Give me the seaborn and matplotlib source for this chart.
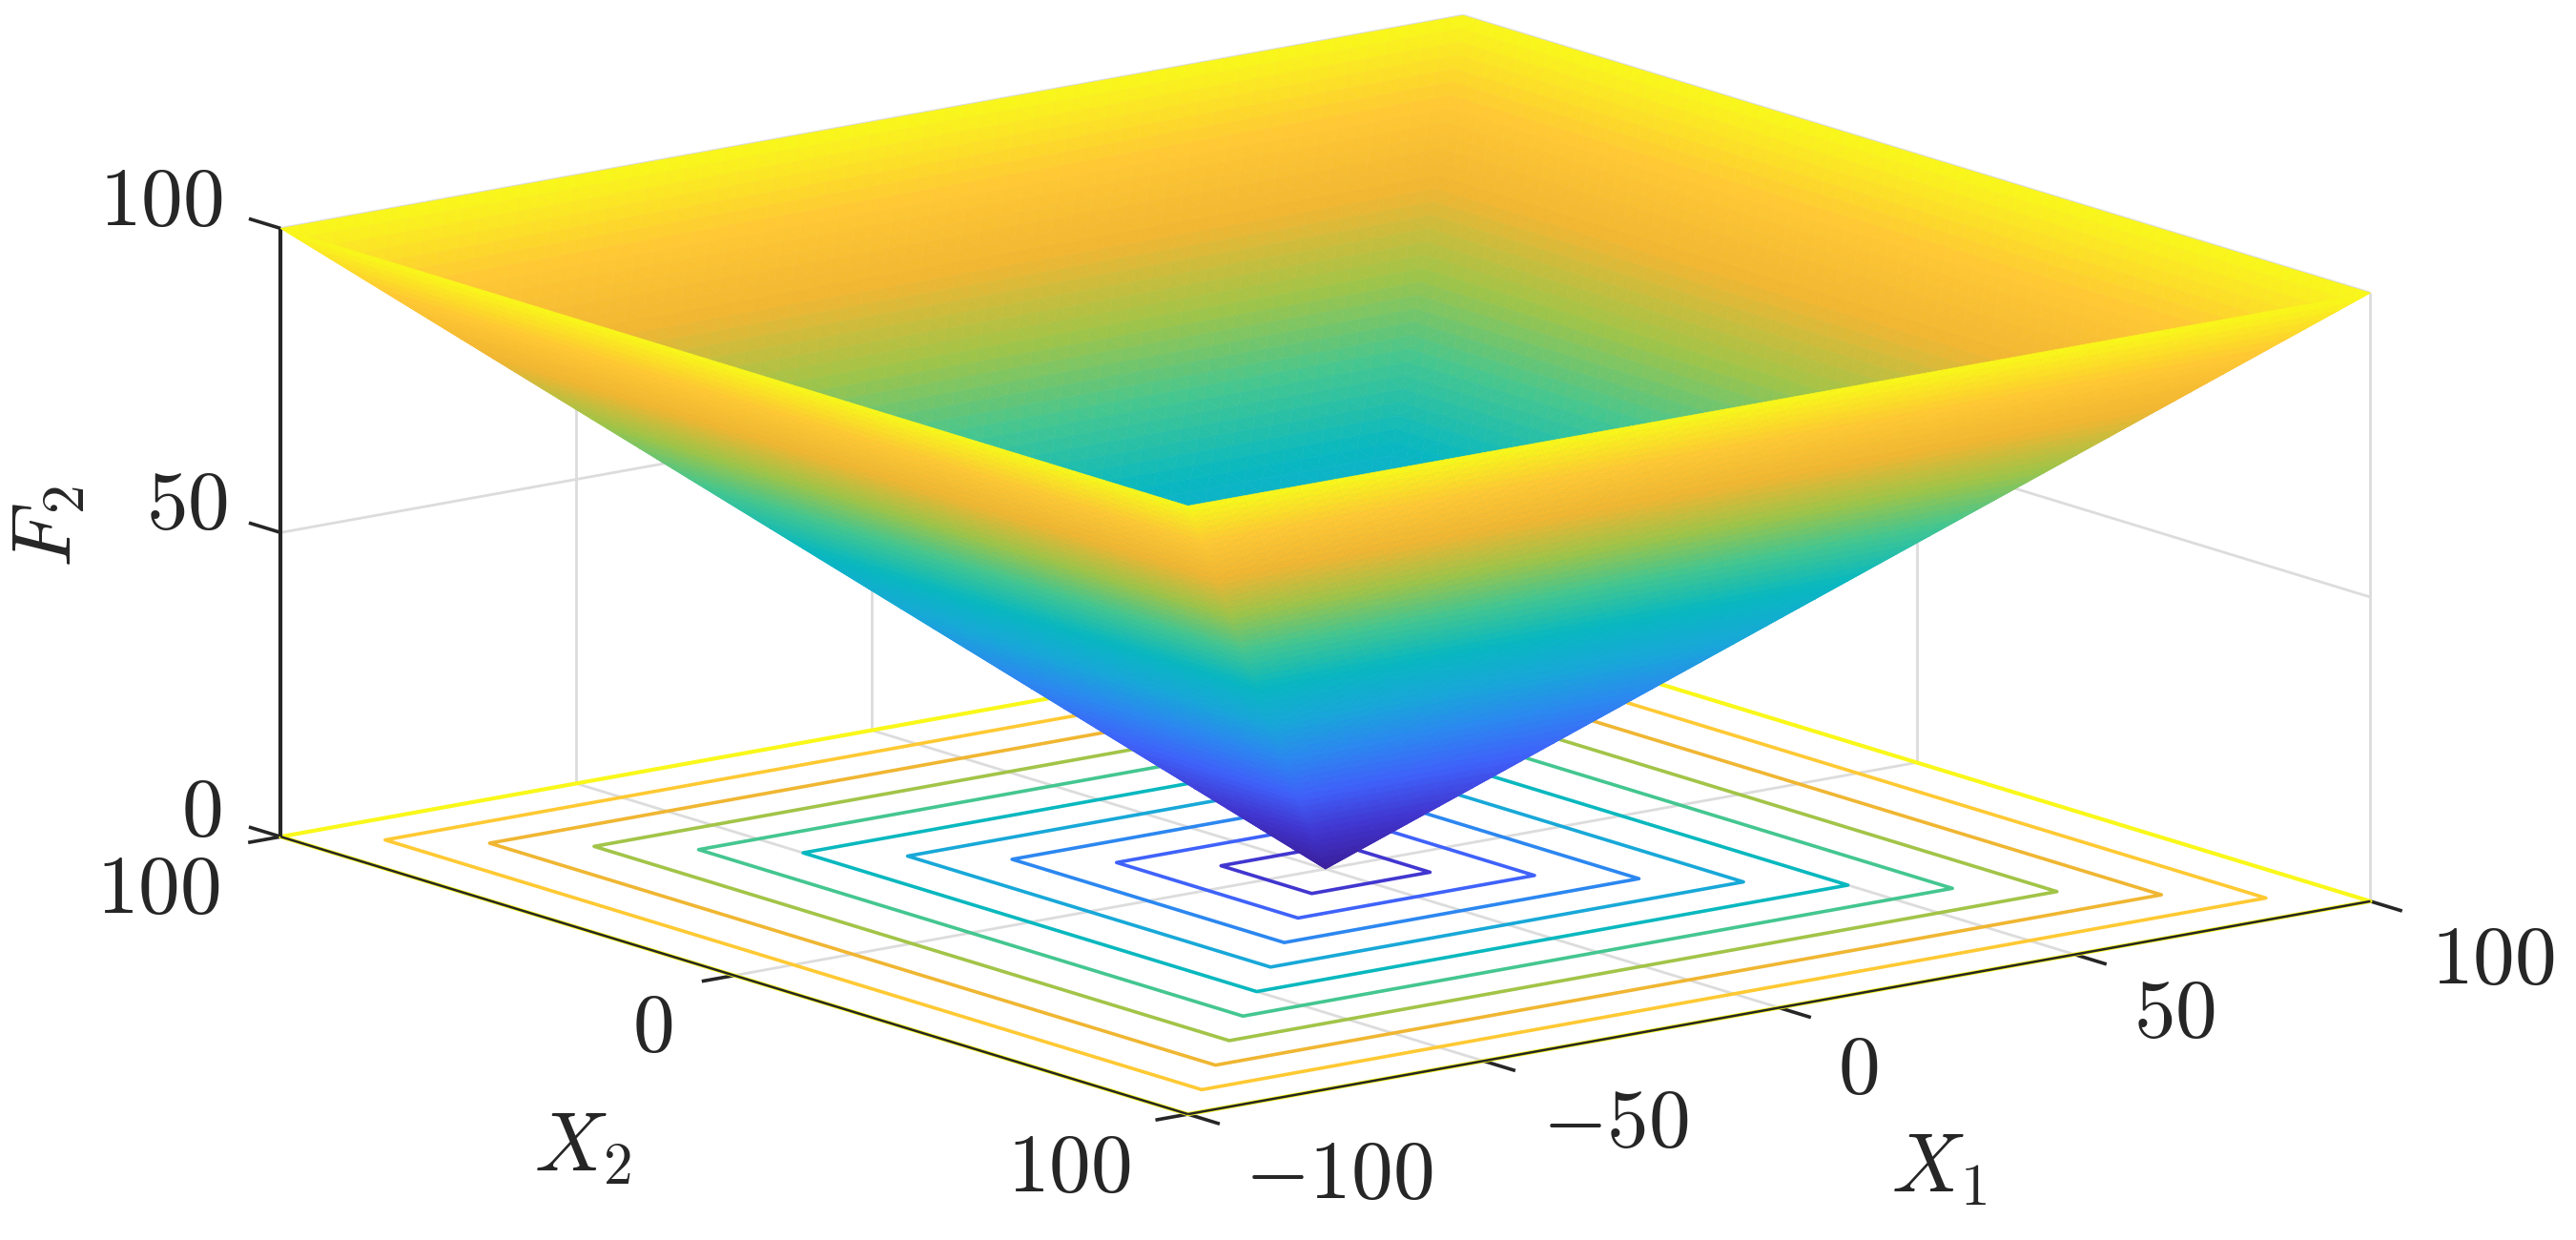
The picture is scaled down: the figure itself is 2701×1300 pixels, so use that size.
import matplotlib
matplotlib.use('Agg')
import matplotlib.pyplot as plt
import matplotlib.tri as mtri
import seaborn as sns

# corners and centre of the surface
x1_points = [-100, 100, 100, -100, 0]
x2_points = [-100, -100, 100, 100, 0]
f2_points = [100, 100, 100, 100, 0]

x1_ticks = [-100, -50, 0, 50, 100]
x2_ticks = [-100, 0, 100]
f2_ticks = [0, 50, 100]

x1_labels = ['$-100$', '$-50$', '$0$', '$50$', '$100$']
x2_labels = ['$100$', '$0$', '$100$']
f2_labels = ['$0$', '$50$', '$100$']

contour_levels = [10, 20, 30, 40, 50, 60, 70, 80, 90]

# colours sampled from the surface at F2 = 0, 10, ... 100
surface_colors = ['#3a1f9c', '#4136d0', '#3f62fa', '#2c88f0', '#18a8d8', '#08b8c0',
                  '#44c690', '#a0c448', '#f0b632', '#ffc834', '#f9f81a']

# label centres in pixels of the 2701x1300 picture
x1_label_px = [(1404, 1232), (1694, 1178), (1948, 1122), (2280, 1063), (2614, 1007)]
x2_label_px = [(1121, 1225), (684, 1078), (166, 933)]
f2_label_px = [(211, 852), (196, 530), (169, 212)]

sns.set_theme(style='white')
plt.rcParams['mathtext.fontset'] = 'cm'

W, H = 2701, 1300
fig = plt.figure(figsize=(W / 100, H / 100), dpi=100, facecolor='white')

# axes larger than the figure so nothing gets clipped at the right corner
side = 2800
left = -48
bottom = -730
ax = fig.add_axes([left / W, bottom / H, side / W, side / H], projection='3d',
                  proj_type='ortho', computed_zorder=False)
ax.set_box_aspect((1565, 1565, 657), zoom=2238 / side)
ax.view_init(elev=13.57, azim=-127.5)
ax.set_xlim(-100, 100)
ax.set_ylim(-100, 100)
ax.set_zlim(0, 100)
ax.set_axis_off()

cmap = sns.blend_palette(surface_colors, as_cmap=True)
grid_c = '#dcdcdc'
axis_c = '#262626'
grid_kw = dict(color=grid_c, lw=2.0, zorder=1, solid_capstyle='butt')
tick_kw = dict(color=axis_c, lw=2.6, zorder=3, solid_capstyle='butt')

# grid on the two back walls and the floor
for v in x1_ticks:
    ax.plot([v, v], [100, 100], [0, 100], **grid_kw)
    ax.plot([v, v], [-100, 100], [0, 0], **grid_kw)
for v in x2_ticks:
    ax.plot([100, 100], [v, v], [0, 100], **grid_kw)
    ax.plot([-100, 100], [v, v], [0, 0], **grid_kw)
for v in f2_ticks:
    ax.plot([-100, 100], [100, 100], [v, v], **grid_kw)
    ax.plot([100, 100], [-100, 100], [v, v], **grid_kw)

# ticks
for v in f2_ticks:
    ax.plot([-100, -100], [100, 107], [v, v], **tick_kw)
for v in x2_ticks:
    ax.plot([-100, -105.5], [v, v], [0, 0], **tick_kw)
for v in x1_ticks:
    ax.plot([v, v], [-100, -107], [0, 0], **tick_kw)

# surface and its contours on the floor
tri = mtri.Triangulation(x1_points, x2_points)
refiner = mtri.UniformTriRefiner(tri)
linear = mtri.LinearTriInterpolator(tri, f2_points)
tri_fine, f2_fine = refiner.refine_field(f2_points, triinterpolator=linear, subdiv=6)

ax.tricontour(tri, f2_points, levels=contour_levels, cmap=cmap, vmin=0, vmax=100,
              offset=0, linewidths=2.6, zorder=4)
ax.plot([-100, 100, 100, -100, -100], [-100, -100, 100, 100, -100], [0, 0, 0, 0, 0],
        color=surface_colors[-1], lw=3.0, zorder=4)

# axis lines sit on the yellow outer contour
ax.plot([-100, -100], [100, 100], [0, 100], color=axis_c, lw=3.0, zorder=4.5, solid_capstyle='butt')
ax.plot([-100, -100], [-100, 100], [0, 0], color=axis_c, lw=1.8, zorder=4.5, solid_capstyle='butt')
ax.plot([-100, 100], [-100, -100], [0, 0], color=axis_c, lw=1.8, zorder=4.5, solid_capstyle='butt')

surf = ax.plot_trisurf(tri_fine, f2_fine, cmap=cmap, vmin=0, vmax=100, shade=False,
                       linewidth=0.4, antialiased=True, zorder=5)
surf.set_edgecolor(surf.to_rgba(surf.get_array()))

# labels
text_c = '#262626'
fs = 63
for labels, pos in [(x1_labels, x1_label_px), (x2_labels, x2_label_px), (f2_labels, f2_label_px)]:
    for s, (px, py) in zip(labels, pos):
        fig.text(px / W, 1 - py / H, s, fontsize=fs, color=text_c, ha='center', va='center')

fig.text(2033 / W, 1 - 1225 / H, '$X_1$', fontsize=fs, color=text_c, ha='center', va='center')
fig.text(611 / W, 1 - 1203 / H, '$X_2$', fontsize=fs, color=text_c, ha='center', va='center')
fig.text(50 / W, 1 - 552 / H, '$F_2$', fontsize=fs, color=text_c, ha='center', va='center',
         rotation=90)

fig.savefig('out.png', dpi=100, facecolor='white')
